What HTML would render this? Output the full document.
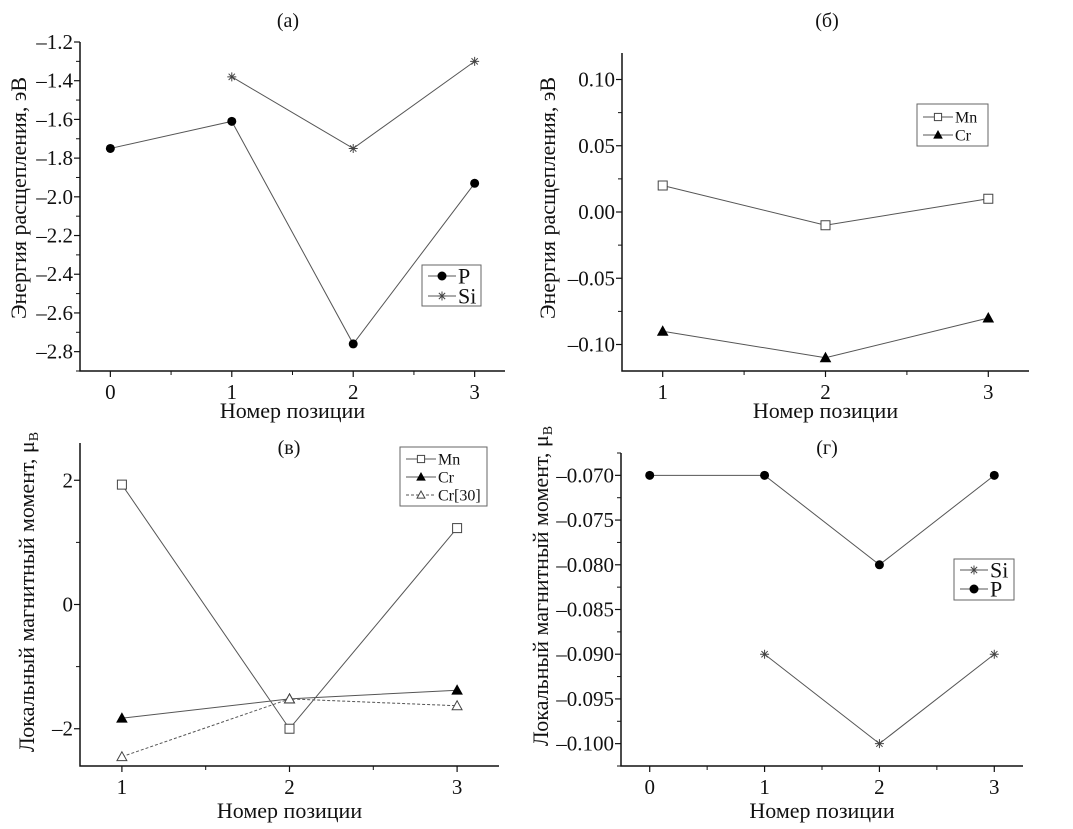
<!DOCTYPE html>
<html><head><meta charset="utf-8">
<style>
html,body{margin:0;padding:0;background:#fff;}
svg{display:block;font-family:"Liberation Serif","Times New Roman",serif;}
</style></head>
<body>
<svg id="fig" width="1073" height="829" viewBox="0 0 1073 829" xmlns="http://www.w3.org/2000/svg"></svg>
<script>
// Panel (a)
const aCategories = [0, 1, 2, 3];
const aP = [-1.75, -1.61, -2.76, -1.93];
const aSiX = [1, 2, 3];
const aSi = [-1.38, -1.75, -1.30];
const aYTicks = ["-1.2","-1.4","-1.6","-1.8","-2.0","-2.2","-2.4","-2.6","-2.8"];
// Panel (b)
const bCategories = [1, 2, 3];
const bMn = [0.02, -0.01, 0.01];
const bCr = [-0.09, -0.11, -0.08];
const bYTicks = ["0.10","0.05","0.00","-0.05","-0.10"];
// Panel (c)
const cCategories = [1, 2, 3];
const cMn = [1.93, -2.0, 1.23];
const cCr = [-1.83, -1.52, -1.38];
const cCr30 = [-2.45, -1.52, -1.63];
const cYTicks = ["2","0","-2"];
// Panel (d)
const dPX = [0, 1, 2, 3];
const dP = [-0.07, -0.07, -0.08, -0.07];
const dSiX = [1, 2, 3];
const dSi = [-0.09, -0.10, -0.09];
const dYTicks = ["-0.070","-0.075","-0.080","-0.085","-0.090","-0.095","-0.100"];

const NS = "http://www.w3.org/2000/svg";
const svg = document.getElementById("fig");
function mk(tag, attrs, parent) {
  const e = document.createElementNS(NS, tag);
  for (const k in attrs) e.setAttribute(k, attrs[k]);
  (parent || svg).appendChild(e);
  return e;
}
function txt(s, attrs, parent) { const t = mk("text", attrs, parent); t.textContent = s; return t; }
const fmt = s => s.replace("-", "\u2013");
const TF = 21;

function panel(cfg) {
  const g = mk("g", {});
  
  
  const X = v => cfg.l + (v - cfg.x0) / (cfg.x1 - cfg.x0) * (cfg.r - cfg.l);
  const Y = v => cfg.b - (v - cfg.y0) / (cfg.y1 - cfg.y0) * (cfg.b - cfg.t);
  const ax = mk("path", {d:`M${cfg.l},${cfg.t}V${cfg.b}H${cfg.r}`, stroke:"#111", "stroke-width":1.5, fill:"none"}, g);
  
  
  cfg.xt.forEach(v => {
    mk("line", {x1:X(v), x2:X(v), y1:cfg.b, y2:cfg.b+6, stroke:"#111","stroke-width":1.2}, g);
    const t = txt(String(v), {x:X(v), y:cfg.b+28, "font-size":TF, "text-anchor":"middle", fill:"#111"}, g);
    
    
  });
  cfg.xm.forEach(v => mk("line", {x1:X(v), x2:X(v), y1:cfg.b, y2:cfg.b+4, stroke:"#111","stroke-width":1}, g));
  cfg.ylab.forEach(s => {
    const v = parseFloat(s);
    mk("line", {x1:cfg.l-6, x2:cfg.l, y1:Y(v), y2:Y(v), stroke:"#111","stroke-width":1.2}, g);
    const t = txt(fmt(s), {x:cfg.l-7, y:Y(v)+7, "font-size":TF, "text-anchor":"end", fill:"#111"}, g);
    
    
  });
  cfg.ym.forEach(v => mk("line", {x1:cfg.l-4, x2:cfg.l, y1:Y(v), y2:Y(v), stroke:"#111","stroke-width":1}, g));
  const tt = txt(cfg.title, {x:cfg.tx, y:cfg.ty, "font-size":20, "text-anchor":"middle", fill:"#111"}, g);
  
  
  const xl = txt("Номер позиции", {x:(cfg.l+cfg.r)/2, y:cfg.xly, "font-size":22, "text-anchor":"middle", fill:"#111"}, g);
  
  
  const yl = mk("text", {x:0, y:0, "font-size":22, "text-anchor":"middle", fill:"#111",
    transform:`translate(${cfg.ylx},${cfg.yly || (cfg.t+cfg.b)/2}) rotate(-90)`}, g);
  
  
  if (cfg.mu) {
    yl.textContent = "Локальный магнитный момент, μ";
    const sub = mk("tspan", {"font-size":14, dy:4}, yl); sub.textContent = "B";
  } else yl.textContent = "Энергия расщепления, эВ";
  cfg.series.forEach(s => {
    const sg = mk("g", {}, g);
    
    
    const pts = s.xs.map((x,i) => X(x)+","+Y(s.ys[i])).join(" ");
    const ln = mk("polyline", {points:pts, fill:"none", stroke:"#555", "stroke-width":1, "stroke-dasharray":s.dash||"none"}, sg);
    
    
    s.xs.forEach((x,i) => {
      const m = marker(s.m, X(x), Y(s.ys[i]), sg, 1);
      
      
    });
  });
  const L = cfg.leg;
  const lg = mk("g", {}, g);
  
  
  mk("rect", {x:L.x, y:L.y, width:L.w, height:L.h, fill:"#fff", stroke:"#666", "stroke-width":1}, lg);
  L.items.forEach((it, i) => {
    const yy = L.y + L.pad + i * L.step;
    const e = mk("g", {}, lg);
    
    
    mk("line", {x1:L.x+6, x2:L.x+6+L.ll, y1:yy, y2:yy, stroke:"#555","stroke-width":1,"stroke-dasharray":it.dash||"none"}, e);
    marker(it.m, L.x+6+L.ll/2, yy, e, L.ms);
    txt(it.label, {x:L.x+8+L.ll, y:yy+L.fs*0.35, "font-size":L.fs, fill:"#111"}, e);
  });
}
function marker(type, x, y, parent, sc) {
  const r = 4.5*sc;
  if (type === "dot") return mk("circle", {cx:x, cy:y, r:r, fill:"#000"}, parent);
  if (type === "sq") return mk("rect", {x:x-r, y:y-r, width:2*r, height:2*r, fill:"#fff", stroke:"#444","stroke-width":1}, parent);
  if (type === "tri" || type === "otri") {
    const h = r*1.1;
    return mk("polygon", {points:`${x},${y-h} ${x-h},${y+h*0.8} ${x+h},${y+h*0.8}`,
      fill: type==="tri"?"#000":"#fff", stroke: type==="tri"?"#000":"#444", "stroke-width":1}, parent);
  }
  const d = `M${x-r},${y}H${x+r}M${x},${y-r}V${y+r}M${x-r*0.7},${y-r*0.7}L${x+r*0.7},${y+r*0.7}M${x-r*0.7},${y+r*0.7}L${x+r*0.7},${y-r*0.7}`;
  return mk("path", {d:d, stroke:"#444", "stroke-width":1, fill:"none"}, parent);
}
function range(a,b,s){const o=[];for(let v=a;v<=b+1e-9;v+=s)o.push(+v.toFixed(4));return o;}

panel({name:"panel-a", l:80, r:505, t:42, b:371, x0:-0.25, x1:3.25, y0:-2.9, y1:-1.2,
  xt:aCategories, xm:[0.5,1.5,2.5], ylab:aYTicks, ym:range(-2.9,-1.3,0.2),
  title:"(а)", tx:288, ty:27, xly:418, ylx:26, yly:198, mu:false,
  series:[{key:"P", xs:aCategories, ys:aP, m:"dot"},{key:"Si", xs:aSiX, ys:aSi, m:"star"}],
  leg:{x:422, y:265, w:59, h:41, pad:11, step:20, ll:28, fs:22, ms:1,
    items:[{label:"P", m:"dot"},{label:"Si", m:"star"}]}});

panel({name:"panel-b", l:622, r:1029, t:53, b:371, x0:0.75, x1:3.25, y0:-0.12, y1:0.12,
  xt:bCategories, xm:[1.5,2.5], ylab:bYTicks, ym:range(-0.075,0.075,0.05),
  title:"(б)", tx:827, ty:27, xly:418, ylx:555, yly:198, mu:false,
  series:[{key:"Mn", xs:bCategories, ys:bMn, m:"sq"},{key:"Cr", xs:bCategories, ys:bCr, m:"tri"}],
  leg:{x:917, y:104, w:71, h:42, pad:13, step:18, ll:30, fs:16, ms:0.8,
    items:[{label:"Mn", m:"sq"},{label:"Cr", m:"tri"}]}});

panel({name:"panel-c", l:80, r:499, t:443, b:766, x0:0.75, x1:3.25, y0:-2.6, y1:2.6,
  xt:cCategories, xm:[1.5,2.5], ylab:cYTicks, ym:[-1,1],
  title:"(в)", tx:289, ty:454, xly:818, ylx:34, yly:592, mu:true,
  series:[{key:"Mn", xs:cCategories, ys:cMn, m:"sq"},{key:"Cr", xs:cCategories, ys:cCr, m:"tri"},
          {key:"Cr30", xs:cCategories, ys:cCr30, m:"otri", dash:"3,2"}],
  leg:{x:400, y:447, w:87, h:59, pad:12, step:18, ll:30, fs:16, ms:0.8,
    items:[{label:"Mn", m:"sq"},{label:"Cr", m:"tri"},{label:"Cr[30]", m:"otri", dash:"3,2"}]}});

panel({name:"panel-d", l:621, r:1023, t:453, b:766, x0:-0.25, x1:3.25, y0:-0.1025, y1:-0.0675,
  xt:dPX, xm:[0.5,1.5,2.5], ylab:dYTicks, ym:range(-0.1025,-0.0675,0.005),
  title:"(г)", tx:827, ty:454, xly:818, ylx:548, yly:586, mu:true,
  series:[{key:"P", xs:dPX, ys:dP, m:"dot"},{key:"Si", xs:dSiX, ys:dSi, m:"star"}],
  leg:{x:954, y:559, w:60, h:41, pad:11, step:19, ll:28, fs:22, ms:1,
    items:[{label:"Si", m:"star"},{label:"P", m:"dot"}]}});
</script>
</body></html>
